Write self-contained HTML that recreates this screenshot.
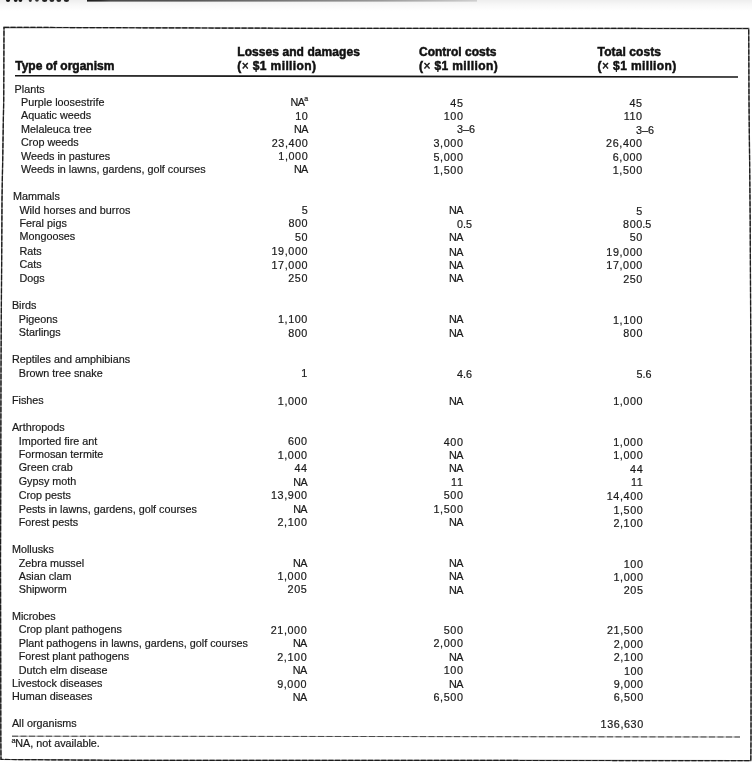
<!DOCTYPE html><html><head><meta charset="utf-8"><style>
html,body{margin:0;padding:0;background:#fff;}
body{filter:grayscale(1);width:752px;height:762px;overflow:hidden;position:relative;font-family:"Liberation Sans",sans-serif;color:#1a1a1a;}
.t{position:absolute;white-space:nowrap;-webkit-text-stroke:0.2px #1a1a1a;transform:scaleY(0.96);transform-origin:0 10.5px;line-height:14px;height:14px;font-size:10.8px;}
.r{text-align:right;}
.n{letter-spacing:0.6px;margin-right:-0.6px;}
.na{letter-spacing:-0.6px;}
.b{font-weight:bold;font-size:12px;color:#111;transform:none;-webkit-text-stroke:0.5px #111;}
.x{position:absolute;left:0;top:0;}
sup{font-size:6px;vertical-align:0;position:relative;top:-4px;}
</style></head><body>
<div style="position:absolute;left:0;top:0;width:752px;height:11px;background:linear-gradient(#eeeeee,#f8f8f8 45%,#fff)"></div>
<svg class="x" width="752" height="762" viewBox="0 0 752 762">
<ellipse cx="8.00" cy="0" rx="2.10" ry="2.10" fill="#111"/>
<ellipse cx="15.70" cy="0" rx="1.90" ry="2.00" fill="#1a1a1a"/>
<ellipse cx="20.40" cy="0" rx="1.90" ry="2.00" fill="#1a1a1a"/>
<ellipse cx="30.30" cy="0" rx="1.60" ry="1.90" fill="#333"/>
<ellipse cx="36.95" cy="0" rx="1.85" ry="1.80" fill="#333"/>
<ellipse cx="44.65" cy="0" rx="2.65" ry="1.90" fill="#222"/>
<ellipse cx="51.90" cy="0" rx="2.40" ry="1.90" fill="#2a2a2a"/>
<ellipse cx="58.80" cy="0" rx="2.40" ry="1.90" fill="#2a2a2a"/>
<ellipse cx="66.45" cy="0" rx="2.65" ry="1.90" fill="#222"/>
<defs><linearGradient id="band" x1="0" x2="1" y1="0" y2="0"><stop offset="0" stop-color="#1e1e1e"/><stop offset="0.035" stop-color="#2a2a2a"/><stop offset="0.06" stop-color="#4a4a4a"/><stop offset="0.25" stop-color="#555"/><stop offset="0.5" stop-color="#777"/><stop offset="0.75" stop-color="#999"/><stop offset="1" stop-color="#cfcfcf"/></linearGradient></defs>
<rect x="87" y="0" width="390" height="1.6" fill="url(#band)"/>
<polygon points="4.0,27.3 320.0,28.4 748.7,28.5 749.0,100.0 750.2,220.0 751.2,440.0 751.2,620.0 751.0,740.0 750.8,760.6 380.0,760.4 120.0,760.4 1.0,759.4 0.8,740.0 0.5,560.0 1.0,370.0 2.0,200.0 3.7,100.0" fill="none" stroke="#5a5a5a" stroke-width="1.3"/>
<polygon points="4.0,27.3 320.0,28.4 748.7,28.5 749.0,100.0 750.2,220.0 751.2,440.0 751.2,620.0 751.0,740.0 750.8,760.6 380.0,760.4 120.0,760.4 1.0,759.4 0.8,740.0 0.5,560.0 1.0,370.0 2.0,200.0 3.7,100.0" fill="none" stroke="#1c1c1c" stroke-width="1.2" stroke-dasharray="5 1.6"/>
<polyline points="15,75.7 380,76.4 738,77" fill="none" stroke="#151515" stroke-width="1.6"/>
<polyline points="12,736.2 360,736.5 740,737" fill="none" stroke="#9a9a9a" stroke-width="1"/>
<polyline points="12,736.2 360,736.5 740,737" fill="none" stroke="#4a4a4a" stroke-width="1" stroke-dasharray="6 2.5"/>
</svg>
<div class="t" style="left:14.60px;top:82.00px">Plants</div>
<div class="t" style="left:21.00px;top:95.00px">Purple loosestrife</div>
<div class="t r na" style="right:447.73px;top:95.00px">NA</div>
<div class="t" style="left:304.27px;top:92.00px;font-size:7px">a</div>
<div class="t r n" style="right:289.10px;top:96.00px">45</div>
<div class="t r n" style="right:109.97px;top:96.00px">45</div>
<div class="t" style="left:21.00px;top:108.00px">Aquatic weeds</div>
<div class="t r n" style="right:444.16px;top:109.00px">10</div>
<div class="t r n" style="right:289.10px;top:109.00px">100</div>
<div class="t r n" style="right:109.95px;top:109.00px">110</div>
<div class="t" style="left:21.00px;top:122.00px">Melaleuca tree</div>
<div class="t r na" style="right:444.19px;top:122.00px">NA</div>
<div class="t r n" style="right:289.10px;top:122.00px">3</div>
<div class="t" style="left:462.90px;top:122.00px">–6</div>
<div class="t r n" style="right:109.92px;top:123.00px">3</div>
<div class="t" style="left:642.08px;top:123.00px">–6</div>
<div class="t" style="left:21.00px;top:135.00px">Crop weeds</div>
<div class="t r n" style="right:444.22px;top:136.00px">23,400</div>
<div class="t r n" style="right:289.10px;top:136.00px">3,000</div>
<div class="t r n" style="right:109.90px;top:136.00px">26,400</div>
<div class="t" style="left:21.00px;top:149.00px">Weeds in pastures</div>
<div class="t r n" style="right:444.25px;top:149.00px">1,000</div>
<div class="t r n" style="right:289.10px;top:150.00px">5,000</div>
<div class="t r n" style="right:109.87px;top:150.00px">6,000</div>
<div class="t" style="left:21.00px;top:162.00px">Weeds in lawns, gardens, golf courses</div>
<div class="t r na" style="right:444.28px;top:162.00px">NA</div>
<div class="t r n" style="right:289.10px;top:163.00px">1,500</div>
<div class="t r n" style="right:109.85px;top:163.00px">1,500</div>
<div class="t" style="left:13.00px;top:189.00px">Mammals</div>
<div class="t" style="left:19.40px;top:203.00px">Wild horses and burros</div>
<div class="t r n" style="right:444.37px;top:203.00px">5</div>
<div class="t r na" style="right:289.10px;top:203.00px">NA</div>
<div class="t r n" style="right:109.77px;top:204.00px">5</div>
<div class="t" style="left:19.40px;top:216.00px">Feral pigs</div>
<div class="t r n" style="right:444.40px;top:216.00px">800</div>
<div class="t r n" style="right:289.10px;top:217.00px">0</div>
<div class="t" style="left:462.90px;top:217.00px">.5</div>
<div class="t r n" style="right:109.74px;top:217.00px">800</div>
<div class="t" style="left:642.26px;top:217.00px">.5</div>
<div class="t" style="left:19.40px;top:229.00px">Mongooses</div>
<div class="t r n" style="right:444.43px;top:230.00px">50</div>
<div class="t r na" style="right:289.10px;top:230.00px">NA</div>
<div class="t r n" style="right:109.72px;top:230.00px">50</div>
<div class="t" style="left:19.40px;top:244.00px">Rats</div>
<div class="t r n" style="right:444.46px;top:244.00px">19,000</div>
<div class="t r na" style="right:289.10px;top:245.00px">NA</div>
<div class="t r n" style="right:109.69px;top:245.00px">19,000</div>
<div class="t" style="left:19.40px;top:257.00px">Cats</div>
<div class="t r n" style="right:444.49px;top:258.00px">17,000</div>
<div class="t r na" style="right:289.10px;top:258.00px">NA</div>
<div class="t r n" style="right:109.67px;top:258.00px">17,000</div>
<div class="t" style="left:19.40px;top:271.00px">Dogs</div>
<div class="t r n" style="right:444.52px;top:271.00px">250</div>
<div class="t r na" style="right:289.10px;top:271.00px">NA</div>
<div class="t r n" style="right:109.64px;top:272.00px">250</div>
<div class="t" style="left:11.90px;top:298.00px">Birds</div>
<div class="t" style="left:18.70px;top:312.00px">Pigeons</div>
<div class="t r n" style="right:444.61px;top:312.00px">1,100</div>
<div class="t r na" style="right:289.10px;top:312.00px">NA</div>
<div class="t r n" style="right:109.56px;top:313.00px">1,100</div>
<div class="t" style="left:18.70px;top:325.00px">Starlings</div>
<div class="t r n" style="right:444.64px;top:326.00px">800</div>
<div class="t r na" style="right:289.10px;top:326.00px">NA</div>
<div class="t r n" style="right:109.54px;top:326.00px">800</div>
<div class="t" style="left:11.90px;top:352.00px">Reptiles and amphibians</div>
<div class="t" style="left:18.70px;top:366.00px">Brown tree snake</div>
<div class="t r n" style="right:444.73px;top:366.00px">1</div>
<div class="t r n" style="right:289.10px;top:367.00px">4</div>
<div class="t" style="left:462.90px;top:367.00px">.6</div>
<div class="t r n" style="right:109.46px;top:367.00px">5</div>
<div class="t" style="left:642.54px;top:367.00px">.6</div>
<div class="t" style="left:11.90px;top:393.00px">Fishes</div>
<div class="t r n" style="right:444.79px;top:394.00px">1,000</div>
<div class="t r na" style="right:289.10px;top:394.00px">NA</div>
<div class="t r n" style="right:109.41px;top:394.00px">1,000</div>
<div class="t" style="left:11.90px;top:420.00px">Arthropods</div>
<div class="t" style="left:18.70px;top:434.00px">Imported fire ant</div>
<div class="t r n" style="right:444.88px;top:434.00px">600</div>
<div class="t r n" style="right:289.10px;top:435.00px">400</div>
<div class="t r n" style="right:109.33px;top:435.00px">1,000</div>
<div class="t" style="left:18.70px;top:447.00px">Formosan termite</div>
<div class="t r n" style="right:444.91px;top:448.00px">1,000</div>
<div class="t r na" style="right:289.10px;top:448.00px">NA</div>
<div class="t r n" style="right:109.31px;top:448.00px">1,000</div>
<div class="t" style="left:18.70px;top:460.00px">Green crab</div>
<div class="t r n" style="right:444.94px;top:461.00px">44</div>
<div class="t r na" style="right:289.10px;top:461.00px">NA</div>
<div class="t r n" style="right:109.28px;top:462.00px">44</div>
<div class="t" style="left:18.70px;top:474.00px">Gypsy moth</div>
<div class="t r na" style="right:444.97px;top:475.00px">NA</div>
<div class="t r n" style="right:289.10px;top:475.00px">11</div>
<div class="t r n" style="right:109.26px;top:475.00px">11</div>
<div class="t" style="left:18.70px;top:488.00px">Crop pests</div>
<div class="t r n" style="right:445.00px;top:488.00px">13,900</div>
<div class="t r n" style="right:289.10px;top:488.00px">500</div>
<div class="t r n" style="right:109.23px;top:489.00px">14,400</div>
<div class="t" style="left:18.70px;top:502.00px">Pests in lawns, gardens, golf courses</div>
<div class="t r na" style="right:445.03px;top:502.00px">NA</div>
<div class="t r n" style="right:289.10px;top:502.00px">1,500</div>
<div class="t r n" style="right:109.20px;top:503.00px">1,500</div>
<div class="t" style="left:18.70px;top:515.00px">Forest pests</div>
<div class="t r n" style="right:445.06px;top:515.00px">2,100</div>
<div class="t r na" style="right:289.10px;top:515.00px">NA</div>
<div class="t r n" style="right:109.18px;top:516.00px">2,100</div>
<div class="t" style="left:11.90px;top:542.00px">Mollusks</div>
<div class="t" style="left:18.70px;top:556.00px">Zebra mussel</div>
<div class="t r na" style="right:445.15px;top:556.00px">NA</div>
<div class="t r na" style="right:289.10px;top:556.00px">NA</div>
<div class="t r n" style="right:109.10px;top:557.00px">100</div>
<div class="t" style="left:18.70px;top:569.00px">Asian clam</div>
<div class="t r n" style="right:445.17px;top:569.00px">1,000</div>
<div class="t r na" style="right:289.10px;top:569.00px">NA</div>
<div class="t r n" style="right:109.08px;top:570.00px">1,000</div>
<div class="t" style="left:18.70px;top:582.00px">Shipworm</div>
<div class="t r n" style="right:445.20px;top:582.00px">205</div>
<div class="t r na" style="right:289.10px;top:583.00px">NA</div>
<div class="t r n" style="right:109.05px;top:583.00px">205</div>
<div class="t" style="left:11.90px;top:609.00px">Microbes</div>
<div class="t" style="left:18.70px;top:622.00px">Crop plant pathogens</div>
<div class="t r n" style="right:445.29px;top:623.00px">21,000</div>
<div class="t r n" style="right:289.10px;top:623.00px">500</div>
<div class="t r n" style="right:108.98px;top:623.00px">21,500</div>
<div class="t" style="left:18.70px;top:636.00px">Plant pathogens in lawns, gardens, golf courses</div>
<div class="t r na" style="right:445.32px;top:636.00px">NA</div>
<div class="t r n" style="right:289.10px;top:636.00px">2,000</div>
<div class="t r n" style="right:108.95px;top:637.00px">2,000</div>
<div class="t" style="left:18.70px;top:649.00px">Forest plant pathogens</div>
<div class="t r n" style="right:445.35px;top:650.00px">2,100</div>
<div class="t r na" style="right:289.10px;top:650.00px">NA</div>
<div class="t r n" style="right:108.93px;top:650.00px">2,100</div>
<div class="t" style="left:18.70px;top:663.00px">Dutch elm disease</div>
<div class="t r na" style="right:445.38px;top:663.00px">NA</div>
<div class="t r n" style="right:289.10px;top:663.00px">100</div>
<div class="t r n" style="right:108.90px;top:664.00px">100</div>
<div class="t" style="left:11.90px;top:676.00px">Livestock diseases</div>
<div class="t r n" style="right:445.41px;top:677.00px">9,000</div>
<div class="t r na" style="right:289.10px;top:677.00px">NA</div>
<div class="t r n" style="right:108.87px;top:677.00px">9,000</div>
<div class="t" style="left:11.90px;top:689.00px">Human diseases</div>
<div class="t r na" style="right:445.44px;top:690.00px">NA</div>
<div class="t r n" style="right:289.10px;top:690.00px">6,500</div>
<div class="t r n" style="right:108.85px;top:690.00px">6,500</div>
<div class="t" style="left:11.90px;top:716.00px">All organisms</div>
<div class="t r n" style="right:108.80px;top:717.00px">136,630</div>
<div class="t b" style="left:15.2px;top:58.84px">Type of organism</div>
<div class="t b" style="left:237.30px;top:45.44px;letter-spacing:0.07px">Losses and damages</div>
<div class="t b" style="left:237.30px;top:58.74px;letter-spacing:0.38px">(<span style="font-weight:normal">&#215;</span> $1 million)</div>
<div class="t b" style="left:419.00px;top:45.44px;letter-spacing:0px">Control costs</div>
<div class="t b" style="left:419.00px;top:58.74px;letter-spacing:0.38px">(<span style="font-weight:normal">&#215;</span> $1 million)</div>
<div class="t b" style="left:597.60px;top:45.44px;letter-spacing:0.1px">Total costs</div>
<div class="t b" style="left:597.60px;top:58.74px;letter-spacing:0.38px">(<span style="font-weight:normal">&#215;</span> $1 million)</div>
<div class="t" style="left:11.6px;top:734.00px;font-size:7.5px">a</div>
<div class="t" style="left:15.2px;top:736.00px">NA, not available.</div>
</body></html>
